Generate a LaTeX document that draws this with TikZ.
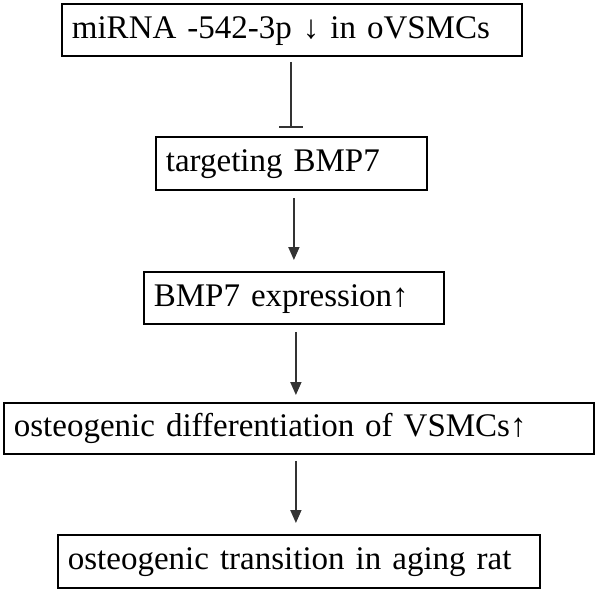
\documentclass[tikz,border=0pt]{standalone}
\usepackage{fontspec}
\setmainfont{Liberation Serif}
\usetikzlibrary{arrows.meta}
\begin{document}
\begin{tikzpicture}[x=1pt,y=-1pt,
  box/.style={draw=black, line width=1.8pt, anchor=north west, inner xsep=10pt, inner ysep=0pt,
    align=left, font=\fontsize{33}{36}\selectfont, text height=24pt, text depth=7pt},
  conn/.style={draw=black!80, line width=1.8pt},
  arr/.style={conn, -{Triangle[length=13pt,width=11pt]}},
  inh/.style={conn, -{Bar[width=24pt,line width=1.8pt]}}]
\useasboundingbox (0,0) rectangle (597,590);
\node[box, text width=440pt, minimum height=52pt] (b1) at (61,3) {miRNA -542-3p ↓ in oVSMCs};
\node[box, text width=251pt, minimum height=53pt] (b2) at (155,136) {targeting BMP7};
\node[box, text width=280pt, minimum height=52pt] (b3) at (143,271) {BMP7 expression↑};
\node[box, text width=570pt, minimum height=51pt] (b4) at (3,402) {osteogenic differentiation of VSMCs↑};
\node[box, text width=462pt, minimum height=53pt] (b5) at (57,534) {osteogenic transition in aging rat};
\draw[inh] ([xshift=-1pt,yshift=-5pt]b1.south) -- ([xshift=-0.5pt,yshift=8pt]b2.north);
\draw[arr] ([xshift=2.5pt,yshift=-7pt]b2.south) -- ([yshift=11pt]b3.north);
\draw[arr] ([xshift=2pt,yshift=-7pt]b3.south) -- ([xshift=-3pt,yshift=7pt]b4.north);
\draw[arr] ([xshift=-3pt,yshift=-6pt]b4.south) -- ([xshift=-3pt,yshift=11pt]b5.north);
\end{tikzpicture}
\end{document}
